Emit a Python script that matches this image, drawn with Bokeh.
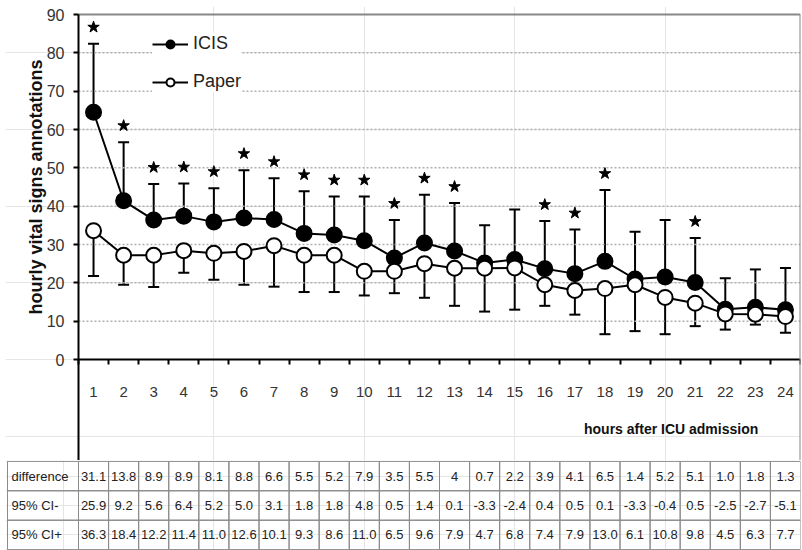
import math
from bokeh.plotting import figure
from bokeh.models import (ColumnDataSource, Range1d, FixedTicker, Whisker, TeeHead,
                          Legend, LegendItem, Label, LinearAxis)
from bokeh.layouts import column
from bokeh.embed import file_html
from bokeh.resources import INLINE
from bokeh.core.properties import value

# ---------------- data ----------------
hours = list(range(1, 25))
icis_mean = [64.5, 41.4, 36.4, 37.4, 35.9, 36.9, 36.5, 32.9, 32.5, 31.0, 26.5, 30.4,
             28.3, 25.2, 26.1, 23.7, 22.4, 25.6, 21.0, 21.5, 20.1, 13.1, 13.6, 13.0]
icis_upper = [82.4, 56.7, 45.8, 45.9, 44.7, 49.4, 47.3, 43.9, 42.5, 42.5, 36.4, 43.0,
              40.8, 35.0, 39.1, 36.1, 33.9, 44.2, 33.3, 36.4, 31.7, 21.2, 23.5, 23.9]
paper_mean = [33.6, 27.2, 27.2, 28.4, 27.7, 28.2, 29.7, 27.2, 27.2, 23.0, 23.0, 25.0,
              23.8, 23.8, 23.9, 19.5, 18.0, 18.5, 19.5, 16.2, 14.7, 11.9, 11.8, 11.2]
paper_lower = [21.8, 19.5, 18.9, 22.6, 20.8, 19.5, 19.0, 17.6, 17.6, 16.7, 17.3, 16.1,
               14.0, 12.5, 13.0, 14.0, 11.7, 6.6, 7.4, 6.6, 8.7, 7.8, 9.1, 7.0]
significant = [1, 2, 3, 4, 5, 6, 7, 8, 9, 10, 11, 12, 13, 16, 17, 18, 21]

row_labels = ["difference", "95% CI-", "95% CI+"]
difference = ["31.1", "13.8", "8.9", "8.9", "8.1", "8.8", "6.6", "5.5", "5.2", "7.9", "3.5", "5.5",
              "4", "0.7", "2.2", "3.9", "4.1", "6.5", "1.4", "5.2", "5.1", "1.0", "1.8", "1.3"]
ci_low = ["25.9", "9.2", "5.6", "6.4", "5.2", "5.0", "3.1", "1.8", "1.8", "4.8", "0.5", "1.4",
          "0.1", "-3.3", "-2.4", "0.4", "0.5", "0.1", "-3.3", "-0.4", "0.5", "-2.5", "-2.7", "-5.1"]
ci_high = ["36.3", "18.4", "12.2", "11.4", "11.0", "12.6", "10.1", "9.3", "8.6", "11.0", "6.5", "9.6",
           "7.9", "4.7", "6.8", "7.4", "7.9", "13.0", "6.1", "10.8", "9.8", "4.5", "6.3", "7.7"]

y_ticks = list(range(0, 91, 10))
grid_ticks = list(range(10, 81, 10))
Y_MAX = 90

# ---------------- layout constants ----------------
FONT = "Liberation Sans"
W = 802
HA = 460
HB = 90
FL = 5          # frame left (px)
FR = 2          # right border (px)
TOP = 6         # frame top (px); value axis top sits 8px lower
TOP_PAD = 8
AXIS_PX = 78    # page x of the value axis
X0, X1 = 0.5, 24.5
px_x = (W - FR - AXIS_PX) / (X1 - X0)
x_start = X0 - (AXIS_PX - FL) / px_x
px_y = 345 / 90.0
y_end = Y_MAX + TOP_PAD / px_y
y_bottom = y_end - (HA - TOP) / px_y

p = figure(width=W, height=HA, x_range=Range1d(x_start, X1), y_range=Range1d(y_bottom, y_end),
           output_backend="svg", toolbar_location=None,
           min_border_left=FL, min_border_right=FR, min_border_top=TOP, min_border_bottom=0,
           x_axis_location=None, y_axis_location=None)
p.background_fill_color = "white"
p.border_fill_color = "white"
p.outline_line_color = None

# value axis (fixed at the left edge of the hours)
yaxis = LinearAxis(fixed_location=X0, bounds=(y_bottom, Y_MAX), ticker=FixedTicker(ticks=y_ticks))
yaxis.axis_line_width = 2
yaxis.axis_line_color = "black"
yaxis.major_tick_line_width = 2
yaxis.major_tick_out = 5
yaxis.major_tick_in = 0
yaxis.minor_tick_line_color = None
yaxis.major_label_text_font = FONT
yaxis.major_label_text_font_size = "16px"
yaxis.major_label_text_color = "#333333"
yaxis.major_label_standoff = 9
p.add_layout(yaxis, "left")

# hours axis at y = 0: labels at hours, tick marks between hours
bounds_ticks = [h - 0.5 for h in hours] + [X1]
xaxis = LinearAxis(fixed_location=0, bounds=(X0, X1),
                   ticker=FixedTicker(ticks=hours, minor_ticks=bounds_ticks))
xaxis.axis_line_width = 2
xaxis.axis_line_color = "black"
xaxis.major_tick_line_color = None
xaxis.minor_tick_line_color = "black"
xaxis.minor_tick_line_width = 2
xaxis.minor_tick_out = 5
xaxis.minor_tick_in = 0
xaxis.major_label_text_font = FONT
xaxis.major_label_text_font_size = "15px"
xaxis.major_label_text_color = "#333333"
xaxis.major_label_standoff = 21
p.add_layout(xaxis, "below")

# gray frame lines (top and right)
top_border = LinearAxis(fixed_location=Y_MAX, bounds=(X0, X1), ticker=FixedTicker(ticks=[]))
top_border.axis_line_color = "#888888"
top_border.axis_line_width = 2
top_border.major_tick_line_color = None
top_border.minor_tick_line_color = None
p.add_layout(top_border, "above")
right_border = LinearAxis(fixed_location=X1, bounds=(y_bottom, Y_MAX), ticker=FixedTicker(ticks=[]))
right_border.axis_line_color = "#888888"
right_border.axis_line_width = 2
right_border.major_tick_line_color = None
right_border.minor_tick_line_color = None
p.add_layout(right_border, "right")

# dotted horizontal grid lines across the hours
p.segment(x0=[X0] * len(grid_ticks), y0=grid_ticks, x1=[X1] * len(grid_ticks), y1=grid_ticks,
          line_color="#b0b0b0", line_dash="2 2", line_width=1.5)

src_i = ColumnDataSource(dict(x=hours, mean=icis_mean, upper=icis_upper))
src_p = ColumnDataSource(dict(x=hours, mean=paper_mean, lower=paper_lower))

w_i = Whisker(base="x", lower="mean", upper="upper", source=src_i, dimension="height",
              lower_head=None, upper_head=TeeHead(size=11, line_width=2), line_width=2, line_color="black")
w_p = Whisker(base="x", lower="lower", upper="mean", source=src_p, dimension="height",
              upper_head=None, lower_head=TeeHead(size=11, line_width=2), line_width=2, line_color="black")
p.add_layout(w_i)
p.add_layout(w_p)

l_i = p.line("x", "mean", source=src_i, line_width=2, line_color="black")
s_i = p.scatter("x", "mean", source=src_i, size=15, fill_color="black", line_color="black", line_width=2)
l_p = p.line("x", "mean", source=src_p, line_width=2, line_color="black")
s_p = p.scatter("x", "mean", source=src_p, size=15, fill_color="white", line_color="black", line_width=2)

star_y = [icis_upper[h - 1] + 4.3 for h in significant]
p.scatter(x=significant, y=star_y, marker="star", size=12, fill_color="black", line_color="black")

legend = Legend(items=[LegendItem(label="ICIS", renderers=[l_i, s_i]),
                       LegendItem(label="Paper", renderers=[l_p, s_p])],
                location=(147, 368), border_line_color=None,
                background_fill_color="white", background_fill_alpha=1.0,
                glyph_width=36, glyph_height=20, label_height=20, spacing=17, padding=6,
                label_standoff=5, label_text_font=FONT, label_text_font_size="18px",
                label_text_color="#222222", margin=0)
p.add_layout(legend)

ylabel = Label(x=X0 - 43 / px_x, y=45, text="hourly vital signs annotations", angle=math.pi / 2,
               text_align="center", text_baseline="middle", text_font=FONT,
               text_font_style="bold", text_font_size="18px", text_color="#111111")
p.add_layout(ylabel)
xlabel = Label(x=20.2, y=-18, text="hours after ICU admission", text_align="center",
               text_baseline="middle", text_font=FONT, text_font_style="bold",
               text_font_size="14px", text_color="#111111")
p.add_layout(xlabel)

# ---------------- table ----------------
tb = figure(width=W, height=HB, x_range=Range1d(x_start, X1), y_range=Range1d(3.03, -0.03),
            output_backend="svg", toolbar_location=None,
            min_border_left=FL, min_border_right=FR, min_border_top=0, min_border_bottom=0,
            x_axis_location=None, y_axis_location=None)
tb.outline_line_color = None
tb.background_fill_color = "white"
tb.border_fill_color = "white"

left_edge = x_start + 2 / px_x
rows_data = [difference, ci_low, ci_high]
cx, cy, ct = [], [], []
for r, vals in enumerate(rows_data):
    for h, v in zip(hours, vals):
        cx.append(h)
        cy.append(r + 0.5)
        ct.append(v)
tb.rect(x=cx, y=cy, width=1, height=1, fill_color=None, line_color="#8a8a8a", line_width=1)
lab_w = X0 - left_edge
tb.rect(x=[left_edge + lab_w / 2] * 3, y=[r + 0.5 for r in range(3)], width=lab_w, height=1,
        fill_color=None, line_color="#8a8a8a", line_width=1)
tb.text(x=cx, y=cy, text=ct, text_align="center", text_baseline="middle",
        text_font=value(FONT), text_font_size="13px", text_color="#222222")
tb.text(x=[left_edge + 4 / px_x] * 3, y=[r + 0.5 for r in range(3)], text=row_labels,
        text_align="left", text_baseline="middle", text_font=value(FONT),
        text_font_size="13px", text_color="#222222")

layout = column(p, tb, spacing=0)
open("out.html", "w").write(file_html(layout, INLINE))
